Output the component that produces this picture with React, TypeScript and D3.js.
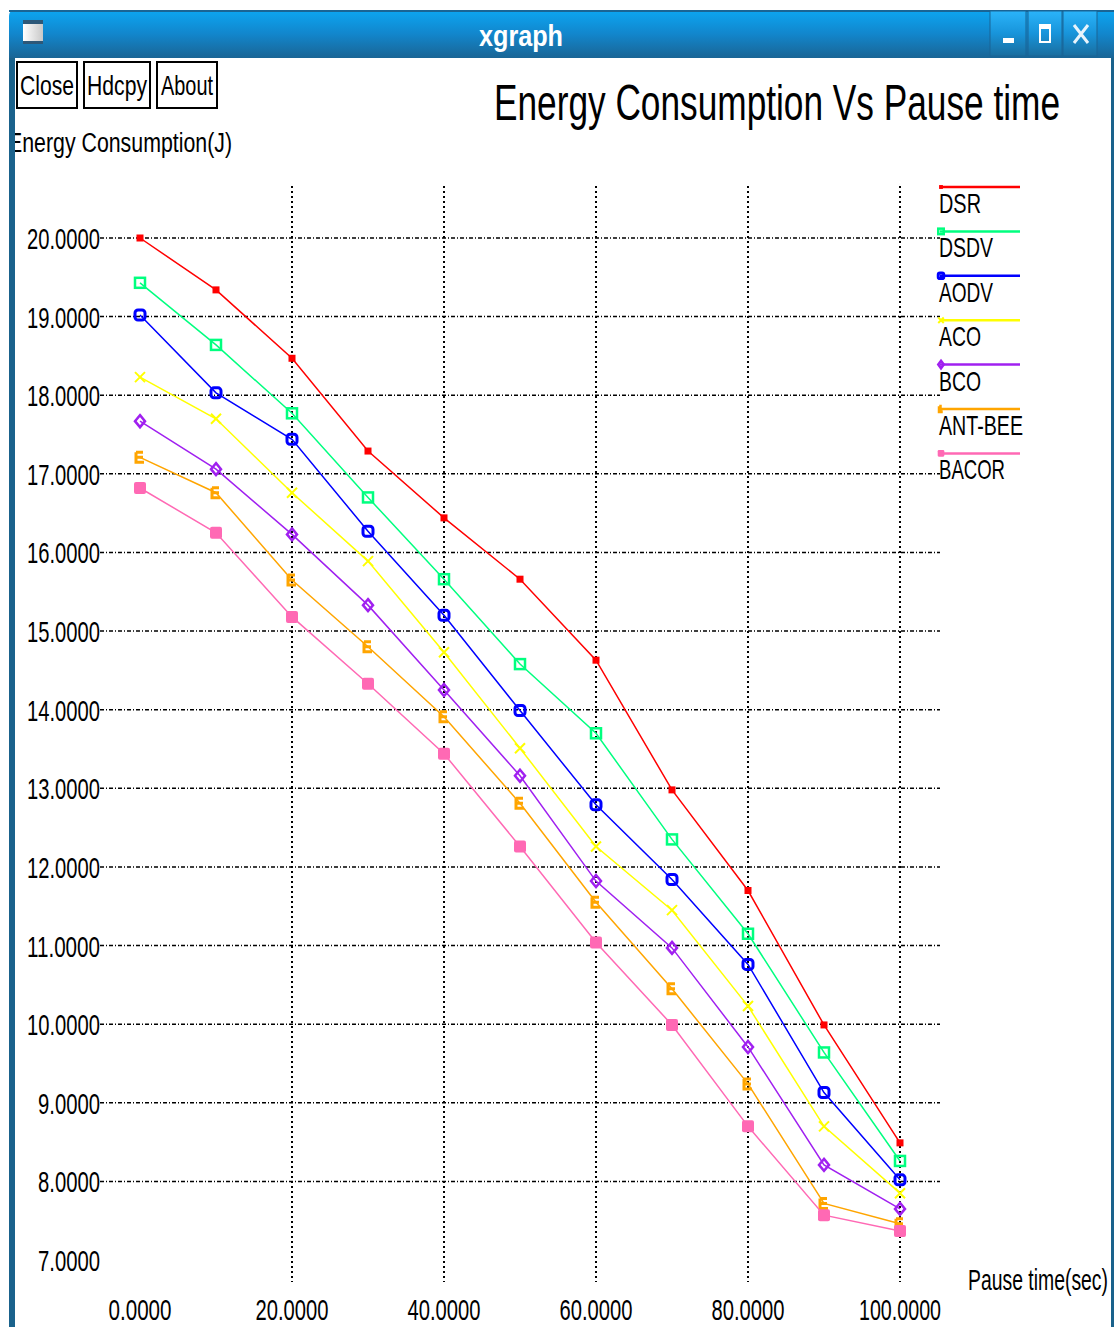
import * as d3 from "d3";
import React from "react";

const W = 1114;
const H = 1327;

const pauseTimes = [0, 10, 20, 30, 40, 50, 60, 70, 80, 90, 100];
const seriesNames = ["DSR", "DSDV", "AODV", "ACO", "BCO", "ANT-BEE", "BACOR"];
const seriesColors = ["#ff0000", "#00ff7f", "#0000ff", "#ffff00", "#a020f0", "#ffa500", "#ff69b4"];

const dsr = [20.0, 19.34, 18.47, 17.29, 16.44, 15.66, 14.63, 12.98, 11.7, 9.99, 8.49];
const dsdv = [19.43, 18.64, 17.77, 16.7, 15.66, 14.58, 13.7, 12.35, 11.15, 9.64, 8.26];
const aodv = [19.02, 18.03, 17.44, 16.27, 15.2, 13.99, 12.79, 11.84, 10.76, 9.13, 8.02];
const aco = [18.23, 17.7, 16.76, 15.89, 14.73, 13.51, 12.26, 11.45, 10.23, 8.7, 7.85];
const bco = [17.67, 17.06, 16.23, 15.33, 14.25, 13.16, 11.82, 10.97, 9.71, 8.21, 7.65];
const antBee = [17.21, 16.76, 15.65, 14.8, 13.91, 12.81, 11.55, 10.45, 9.24, 7.72, 7.46];
const bacor = [16.82, 16.25, 15.18, 14.33, 13.44, 12.26, 11.04, 9.99, 8.7, 7.57, 7.37];

const allSeries = [dsr, dsdv, aodv, aco, bco, antBee, bacor];

const xTicks = [0, 20, 40, 60, 80, 100];
const yTicks = [7, 8, 9, 10, 11, 12, 13, 14, 15, 16, 17, 18, 19, 20];

const FONT = "'Liberation Sans', 'DejaVu Sans', sans-serif";

const x = d3.scaleLinear().domain([0, 100]).range([140, 900]);
const y = d3.scaleLinear().domain([7, 20]).range([1260, 238]);
const fmt = d3.format(".4f");

// xgraph style marker per data set
const Marker = ({ kind, cx, cy, color, s = 1 }: { kind: number; cx: number; cy: number; color: string; s?: number }) => {
  const r = 5 * s;
  switch (kind) {
    case 0:
      return <rect x={cx - 3.5 * s} y={cy - 3.5 * s} width={7 * s} height={7 * s} fill={color} />;
    case 1:
      return <rect x={cx - r} y={cy - r} width={2 * r} height={2 * r} fill="none" stroke={color} strokeWidth={2.5} />;
    case 2:
      return <rect x={cx - r} y={cy - r} width={2 * r} height={2 * r} rx={3 * s} fill="none" stroke={color} strokeWidth={3} />;
    case 3:
      return (
        <path d={`M${cx - r},${cy - r}L${cx + r},${cy + r}M${cx + r},${cy - r}L${cx - r},${cy + r}`}
          stroke={color} strokeWidth={2} fill="none" />
      );
    case 4:
      return (
        <path d={`M${cx},${cy - r - 1}L${cx + r},${cy}L${cx},${cy + r + 1}L${cx - r},${cy}Z`}
          stroke={color} strokeWidth={2.5} fill="none" />
      );
    case 5:
      return (
        <path d={`M${cx - r + 1},${cy - r}V${cy + r}H${cx + r - 1}M${cx - r + 1},${cy - r}H${cx + r - 2}M${cx - r + 1},${cy}H${cx + r - 2}`}
          stroke={color} strokeWidth={3} fill="none" />
      );
    default:
      return <rect x={cx - 6 * s} y={cy - 6 * s} width={12 * s} height={12 * s} rx={2 * s} fill={color} />;
  }
};

const Label = ({ x0, y0, text, len, size, anchor = "start", weight = "normal", fill = "#000" }:
  { x0: number; y0: number; text: string; len: number; size: number; anchor?: string; weight?: string; fill?: string }) => (
  <text x={x0} y={y0} fontFamily={FONT} fontSize={size} textAnchor={anchor as any} fontWeight={weight}
    fill={fill} textLength={len} lengthAdjust="spacingAndGlyphs">{text}</text>
);

export default function App() {
  const line = d3.line<number>().x((_, i) => x(pauseTimes[i])).y(d => y(d));
  const legendY = (i: number) => 187 + i * 44.4;

  return (
    <svg width={W} height={H} style={{ position: "absolute", left: 0, top: 0, background: "#fff" }}>
      <defs>
        <linearGradient id="tbar" x1="0" y1="0" x2="0" y2="1">
          <stop offset="0" stopColor="#0ca6f2" />
          <stop offset="0.5" stopColor="#1286cc" />
          <stop offset="1" stopColor="#1a6595" />
        </linearGradient>
        <linearGradient id="tbtn" x1="0" y1="0" x2="0" y2="1">
          <stop offset="0" stopColor="#2ab4fa" />
          <stop offset="0.5" stopColor="#1894da" />
          <stop offset="1" stopColor="#1a6d9e" />
        </linearGradient>
        <linearGradient id="icon" x1="0" y1="0" x2="1" y2="0">
          <stop offset="0" stopColor="#ffffff" />
          <stop offset="1" stopColor="#c8c8c8" />
        </linearGradient>
      </defs>

      {/* window frame */}
      <path d="M9,58V16Q9,10 15,10H1114V58Z" fill="url(#tbar)" />
      <rect x={9} y={10} width={1105} height={2} fill="#1a6595" />

      <rect x={23} y={20} width={20} height={24} fill="url(#icon)" />
      <rect x={23} y={20} width={20} height={4} fill="#2d5878" />
      <rect x={23} y={41} width={20} height={3} fill="#2d5878" />

      <Label x0={521} y0={46} text="xgraph" len={84} size={30} anchor="middle" weight="bold" fill="#fff" />

      {[990, 1028, 1063].map((bx, i) => (
        <rect key={i} x={bx} y={11} width={bx === 990 ? 36 : 34} height={45} fill="url(#tbtn)" stroke="#1a6595" strokeWidth={1} />
      ))}
      <rect x={1003} y={38} width={11} height={5} fill="#fff" />
      <rect x={1040} y={25} width={10} height={17} fill="none" stroke="#fff" strokeWidth={2} />
      <rect x={1040} y={25} width={10} height={4} fill="#fff" />
      <path d="M1074,25L1088,43M1088,25L1074,43" stroke="#e8f4fc" strokeWidth={3} />

      {/* buttons */}
      {[[16, 62, "Close", 54], [83, 68, "Hdcpy", 60], [156, 62, "About", 52]].map(([bx, bw, t, l]) => (
        <g key={t as string}>
          <rect x={(bx as number) + 1} y={62} width={(bw as number) - 2} height={46} fill="#fff" stroke="#000" strokeWidth={2} />
          <Label x0={(bx as number) + (bw as number) / 2} y0={95} text={t as string} len={l as number} size={28} anchor="middle" />
        </g>
      ))}

      {/* titles */}
      <Label x0={494} y0={120} text="Energy Consumption Vs Pause time" len={566} size={50} />
      <Label x0={8} y0={152} text="Energy Consumption(J)" len={224} size={27} />
      <Label x0={968} y0={1290} text="Pause time(sec)" len={140} size={29} />

      {/* window side borders drawn over the text, as in the reference */}
      <rect x={9} y={58} width={6} height={H - 58} fill="#1a628c" />
      <rect x={1111} y={58} width={3} height={H - 58} fill="#1a628c" />

      {/* grid */}
      {yTicks.filter(t => t !== 7).map(t => (
        <line key={t} x1={100} x2={940} y1={y(t)} y2={y(t)} stroke="#000" strokeWidth={1.5} strokeDasharray="4 2 1 2" />
      ))}
      {xTicks.filter(t => t !== 0).map(t => (
        <line key={t} x1={x(t)} x2={x(t)} y1={186} y2={1282} stroke="#000" strokeWidth={2} strokeDasharray="2 3" />
      ))}

      {/* tick labels */}
      {yTicks.map(t => (
        <Label key={t} x0={100} y0={y(t) + 11} text={fmt(t)} len={t >= 10 ? 73 : 62} size={30} anchor="end" />
      ))}
      {xTicks.map(t => (
        <Label key={t} x0={x(t)} y0={1320} text={fmt(t)} len={t === 0 ? 63 : t === 100 ? 82 : 73} size={30} anchor="middle" />
      ))}

      {/* series */}
      {allSeries.map((vals, si) => (
        <g key={seriesNames[si]}>
          <path d={line(vals) ?? ""} fill="none" stroke={seriesColors[si]} strokeWidth={1.5} />
          {vals.map((v, i) => (
            <Marker key={i} kind={si} cx={x(pauseTimes[i])} cy={y(v)} color={seriesColors[si]} />
          ))}
        </g>
      ))}

      {/* legend */}
      {seriesNames.map((n, i) => (
        <g key={n}>
          <line x1={940} x2={1020} y1={legendY(i)} y2={legendY(i)} stroke={seriesColors[i]} strokeWidth={2.5} />
          <Marker kind={i} cx={941} cy={legendY(i)} color={seriesColors[i]} s={0.55} />
          <Label x0={939} y0={legendY(i) + 26} text={n} len={n.length * 12 + (n === "ANT-BEE" ? 0 : 6)} size={28} />
        </g>
      ))}
    </svg>
  );
}
